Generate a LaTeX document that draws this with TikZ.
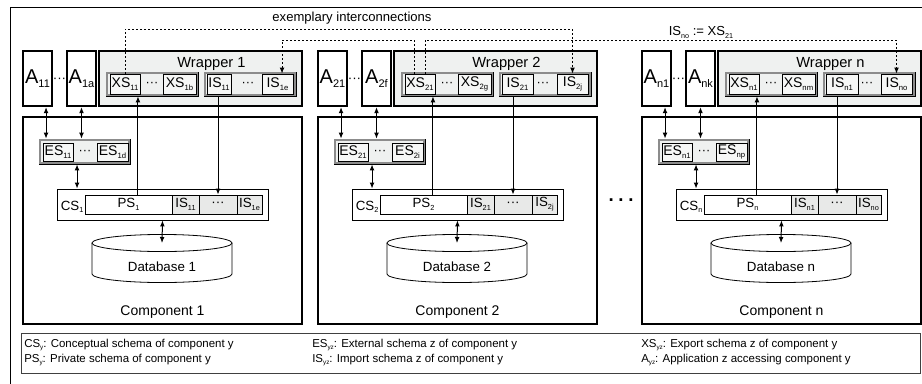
\documentclass[tikz,border=0pt]{standalone}
\usepackage{fontspec}
\setmainfont{Liberation Sans}
\usetikzlibrary{arrows.meta,calc,shadows}
\definecolor{wrapfill}{RGB}{239,241,240}
\definecolor{boxfill}{RGB}{246,247,246}
\definecolor{cellgray}{RGB}{232,233,232}
\definecolor{shadegray}{RGB}{140,140,140}
\newcommand\sbs[1]{\raisebox{-0.4ex}{\scalebox{0.55}{#1}}}
\newcommand\fs[1]{\fontsize{#1}{#1}\selectfont}
\newcommand\bx[7]{\node[#6,minimum width={((#4)-(#2))*0.75pt},minimum height={((#5)-(#3))*0.75pt}] (#1) at ({((#2)+(#4))/2},{((#3)+(#5))/2}) {#7};}
\newcommand\grpframe[1]{\draw[shadegray,line width=0.9pt] ([xshift=1pt,yshift=-1pt]#1.north west) rectangle ([xshift=-1pt,yshift=1pt]#1.south east);}
\tikzset{
 thickbox/.style={draw,line width=1.7pt,fill=white,inner sep=0pt},
 wrapbox/.style={thickbox,fill=wrapfill},
 abox/.style={thickbox,font=\fs{15}},
 grpbox/.style={draw,line width=0.5pt,fill=wrapfill,inner sep=0pt},
 ibox/.style={draw,line width=0.6pt,fill=boxfill,inner sep=0pt,font=\fs{10.5},drop shadow={shadow xshift=0.6pt,shadow yshift=-0.8pt,fill=shadegray,opacity=1}},
 csbox/.style={draw,line width=0.6pt,fill=white,inner sep=0pt},
 pscell/.style={draw,line width=0.6pt,fill=white,inner sep=0pt,font=\fs{10}},
 iscell/.style={pscell,fill=cellgray},
 dotstxt/.style={font=\fs{9.5},inner sep=0pt},
 lbl/.style={inner sep=0pt,anchor=base},
 conn/.style={line width=0.75pt},
 dotline/.style={line width=0.7pt,dash pattern=on 1.5pt off 1.5pt,->},
 legtxt/.style={inner sep=0pt,anchor=base west,font=\fs{8.6}},
}
\begin{document}
\begin{tikzpicture}[x=0.75pt,y=-0.75pt,>={Latex[length=4.5pt,width=3.6pt]}]
\useasboundingbox (0,0) rectangle (922,383);
\clip (0,0) rectangle (922,383);
\draw[line width=0.6pt] (10,7) rectangle (945,400);
\foreach \off/\cy/\la/\lx/\li/\le/\isr in {0/1/a/b/e/d/231,295/2/f/g/j/i/238,619/n/k/m/o/p/239}{
\begin{scope}[xshift={\off*0.75pt}]
 \bx{Comp-\cy}{23}{117}{302}{324}{thickbox}{}
 \node[lbl,font=\fs{10.5}] (CompL-\cy) at (162.5,315) {Component \cy};
 \bx{A1-\cy}{23}{51}{52}{106}{abox}{A\sbs{\cy1}}
 \bx{A2-\cy}{67}{51}{96}{106}{abox}{A\sbs{\cy\la}}
 \node[dotstxt,font=\fs{10}] (Ad-\cy) at (59.5,80) {···};
 \bx{W-\cy}{99}{51}{302}{106}{wrapbox}{}
 \node[lbl,font=\fs{11}] (WT-\cy) at (211.5,67.5) {Wrapper \cy};
 \bx{XSg-\cy}{106}{72}{198}{96}{grpbox}{}
 \grpframe{XSg-\cy}
 \bx{XS1-\cy}{110}{74}{140}{94}{ibox}{XS\sbs{\cy1}}
 \node[dotstxt] (XSd-\cy) at (152,84) {···};
 \bx{XS2-\cy}{163}{74}{196}{94}{ibox}{XS\sbs{\cy\lx}}
 \bx{ISg-\cy}{204}{72}{296}{96}{grpbox}{}
 \grpframe{ISg-\cy}
 \bx{IS1-\cy}{207}{74}{\isr}{94}{ibox}{IS\sbs{\cy1}}
 \node[dotstxt] (ISd-\cy) at (248,84) {···};
 \bx{IS2-\cy}{262}{74}{293}{94}{ibox}{IS\sbs{\cy\li}}
 \bx{ESg-\cy}{39}{139}{130}{164}{grpbox}{}
 \grpframe{ESg-\cy}
 \bx{ES1-\cy}{43}{143}{73}{161}{ibox}{ES\sbs{\cy1}}
 \node[dotstxt] (ESd-\cy) at (85,152) {···};
 \bx{ES2-\cy}{97}{143}{128}{161}{ibox}{ES\sbs{\cy\le}}
 \bx{CS-\cy}{57}{189}{268}{220}{csbox}{}
 \node[anchor=base west,inner sep=0pt,font=\fs{10}] (CSL-\cy) at (60.5,210) {CS\sbs{\cy}};
 \bx{PS-\cy}{85}{195}{172}{214}{pscell}{PS\sbs{\cy}}
 \bx{CI1-\cy}{172}{195}{199}{214}{iscell}{IS\sbs{\cy1}}
 \bx{CId-\cy}{199}{195}{237}{214}{iscell}{···}
 \bx{CI2-\cy}{237}{195}{262}{214}{iscell}{IS\sbs{\cy\li}}
 \draw[line width=0.6pt,fill=white] (92,243) -- (92,274) arc[start angle=180,end angle=360,x radius=52.5pt,y radius=6.4pt] -- (232,243);
 \draw[line width=0.6pt,fill=white] (162,243) ellipse[x radius=52.5pt,y radius=6.4pt];
 \coordinate (DBtop-\cy) at (162,243);
 \node[lbl,font=\fs{10}] (DB-\cy) at (162,271) {Database \cy};
 \coordinate (a1b-\cy) at ([xshift=6.4pt]A1-\cy.south);
 \draw[conn,<->] (a1b-\cy) -- (a1b-\cy |- ESg-\cy.north);
 \draw[conn,<->] (A2-\cy.south) -- (A2-\cy.south |- ESg-\cy.north);
 \coordinate (esb-\cy) at ([xshift=-5.6pt]ESg-\cy.south);
 \draw[conn,<->] (esb-\cy) -- (esb-\cy |- CS-\cy.north);
 \coordinate (psb-\cy) at ([xshift=7.1pt]PS-\cy.north);
 \draw[conn,->] (psb-\cy) -- (psb-\cy |- XSg-\cy.south);
 \draw[conn,->] (CId-\cy.north |- ISg-\cy.south) -- (CId-\cy.north);
 \draw[conn,<->] (CS-\cy.south) -- (DBtop-\cy);
\end{scope}}
% interconnections
\coordinate (lvl1) at (0,29);
\coordinate (lvl2) at (0,40);
\draw[dotline] (XS1-1.north) |- (lvl1 -| IS2-2.north) -- (IS2-2.north);
\coordinate (x21a) at ([xshift=-4.5pt]XS1-2.north);
\coordinate (x21b) at ([xshift=3.75pt]XS1-2.north);
\coordinate (i1e) at ([xshift=3.4pt]IS2-1.north);
\draw[dotline] (x21a) |- (lvl2 -| i1e) -- (i1e);
\draw[dotline] (x21b) |- (lvl2 -| IS2-n.north) -- (IS2-n.north);
\node[lbl,font=\fs{9.8}] (exlbl) at (352,21) {exemplary interconnections};
\node[lbl,font=\fs{9.8}] (eqlbl) at (701,35.5) {IS\sbs{no} := XS\sbs{21}};
\node[lbl,font=\fs{14}\bfseries] (bigdots) at (621,201) {.\hspace{3.5pt}.\hspace{3.5pt}.};
% legend
\bx{Legend}{21}{333}{920.5}{373}{draw=black!75,line width=0.6pt,fill=white,inner sep=0pt}{}
\node[legtxt] (L1) at (24,347) {CS\sbs{y}: Conceptual schema of component y};
\node[legtxt] (L2) at (24,362) {PS\sbs{y}: Private schema of component y};
\node[legtxt] (L3) at (312,347) {ES\sbs{yz}: External schema z of component y};
\node[legtxt] (L4) at (312,362) {IS\sbs{yz}: Import schema z of component y};
\node[legtxt] (L5) at (641,347) {XS\sbs{yz}: Export schema z of component y};
\node[legtxt] (L6) at (641,362) {A\sbs{yz}: Application z accessing component y};
\end{tikzpicture}
\end{document}
